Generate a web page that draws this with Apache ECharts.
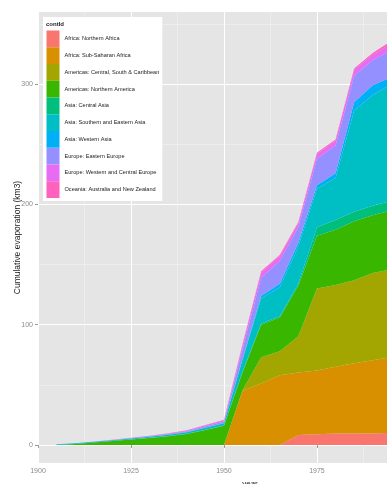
<!DOCTYPE html>
<html>
<head>
<meta charset="utf-8">
<script src="https://cdn.jsdelivr.net/npm/echarts@6/dist/echarts.min.js"></script>
<style>
  html, body { margin: 0; padding: 0; background: #fff; }
  #chart { width: 387px; height: 484px; }
</style>
</head>
<body>
<div id="chart"></div>
<script>
// years and per-region evaporation (km3)
var years = [1905, 1910, 1915, 1920, 1925, 1930, 1935, 1940, 1945, 1950,
             1955, 1960, 1965, 1970, 1975, 1980, 1985, 1990, 1995];

var northernAfrica   = [0, 0, 0, 0, 0, 0, 0, 0, 0, 0,        0, 0, 0, 8.3, 9, 9.5, 9.5, 9.5, 10];
var subSaharanAfrica = [0, 0, 0, 0, 0, 0, 0, 0, 0, 0,        45, 51, 58, 52, 53, 55.5, 58.5, 61, 63];
var centralSouthAm   = [0, 0, 0, 0, 0, 0, 0, 0, 0, 0,        0.5, 22, 20, 30, 68, 68, 69, 72.5, 73];
var northernAmerica  = [0, 0.8, 2, 3.2, 4.5, 5.8, 7.3, 9.2, 12.5, 16,   15, 27, 28, 42, 44, 46, 49, 48, 49];
var centralAsia      = [0, 0, 0, 0, 0.1, 0.1, 0.1, 0.1, 0.2, 0.2,   0.5, 1, 1, 2, 7, 8, 8, 8, 8];
var southEastAsia    = [0.5, 0.6, 0.6, 0.7, 0.8, 0.9, 1.1, 1.3, 1.6, 1.8,   10, 21, 24, 31, 32, 35, 84, 92, 97];
var westernAsia      = [0, 0, 0, 0, 0, 0.1, 0.1, 0.1, 0.2, 0.2,   0.5, 2, 3, 3, 3, 4, 7, 8, 6];
var easternEurope    = [0, 0.1, 0.2, 0.3, 0.4, 0.5, 0.6, 0.8, 1.0, 1.3,   8.5, 15, 19, 13, 22, 23, 22, 21, 22];
var westCentralEur   = [0, 0, 0.1, 0.1, 0.2, 0.3, 0.4, 0.6, 0.8, 1.1,   3, 4.5, 4, 3, 4, 4, 5, 4.5, 6];
var oceania          = [0, 0, 0, 0, 0, 0, 0.1, 0.1, 0.2, 0.4,   1, 1, 1, 1, 1, 1, 1, 1.5, 2];

var regionNames = ['Africa: Northern Africa', 'Africa: Sub-Saharan Africa',
  'Americas: Central, South & Caribbean', 'Americas: Northern America',
  'Asia: Central Asia', 'Asia: Southern and Eastern Asia', 'Asia: Western Asia',
  'Europe: Eastern Europe', 'Europe: Western and Central Europe',
  'Oceania: Australia and New Zealand'];
var regionValues = [northernAfrica, subSaharanAfrica, centralSouthAm, northernAmerica,
  centralAsia, southEastAsia, westernAsia, easternEurope, westCentralEur, oceania];
var colors = ['#F8766D', '#D89000', '#A3A500', '#39B600', '#00BF7D',
              '#00BFC4', '#00B0F6', '#9590FF', '#E76BF3', '#FF62BC'];

var xTicks = [1900, 1925, 1950, 1975, 2000];
var xMinor = [1912.5, 1937.5, 1962.5, 1987.5, 2012.5];
var yTicks = [0, 100, 200, 300];
var yMinor = [50, 150, 250, 350];

var myChart = echarts.init(document.getElementById('chart'));

// value first, year second: echarts stacks the first numeric column,
// so this keeps the stacking on the y axis
var series = regionNames.map(function (name, i) {
  return {
    name: name,
    type: 'line',
    stack: 'total',
    showSymbol: false,
    encode: { x: 1, y: 0 },
    lineStyle: { width: 0 },
    areaStyle: { color: colors[i], opacity: 1 },
    itemStyle: { color: colors[i] },
    data: years.map(function (y, j) { return [regionValues[i][j], y]; })
  };
});

var option = {
  animation: false,
  textStyle: { fontFamily: 'Liberation Sans' },
  grid: {
    left: 38, right: -75, top: 12, bottom: 21, outerBoundsMode: 'none',
    show: true, backgroundColor: '#E5E5E5', borderWidth: 0
  },
  legend: {
    orient: 'vertical',
    left: 43, top: 17,
    padding: [13.5, 3, 3, 3.5],
    backgroundColor: '#fff',
    itemWidth: 13, itemHeight: 16.75, itemGap: 0,
    icon: 'rect',
    selectedMode: false,
    textStyle: { fontSize: 5.6, color: '#222' },
    data: regionNames
  },
  graphic: [{
    type: 'text', left: 46, top: 21, z: 100,
    style: { text: 'contId', fontSize: 6, fontWeight: 'bold', fill: '#222', fontFamily: 'Liberation Sans' }
  }],
  xAxis: [{
    type: 'value', min: 1900, max: 2014,
    name: 'year', nameLocation: 'middle', nameGap: 16,
    nameTextStyle: { fontSize: 8, color: '#222' },
    axisLine: { show: false },
    axisTick: { show: true, length: 3, lineStyle: { color: '#9a9a9a' }, customValues: xTicks },
    axisLabel: { fontSize: 7, color: '#8a8a8a', margin: 5, customValues: xTicks, formatter: function (v) { return String(v); } },
    splitLine: { show: true, lineStyle: { color: '#fff', width: 1 } }
  }, {
    type: 'value', min: 1900, max: 2014,
    axisLine: { show: false },
    axisTick: { show: false, customValues: xMinor },
    axisLabel: { show: false, customValues: xMinor },
    splitLine: { show: true, lineStyle: { color: '#F2F2F2', width: 0.6 } }
  }],
  yAxis: [{
    type: 'value', min: -15, max: 360,
    name: 'Cumulative evaporation (km3)', nameLocation: 'middle', nameGap: 16,
    nameMoveOverlap: false,
    nameTextStyle: { fontSize: 8.5, color: '#222' },
    axisLine: { show: false },
    axisTick: { show: true, length: 3, lineStyle: { color: '#9a9a9a' }, customValues: yTicks },
    axisLabel: { fontSize: 7, color: '#8a8a8a', margin: 5, customValues: yTicks },
    splitLine: { show: true, lineStyle: { color: '#fff', width: 1 } }
  }, {
    type: 'value', min: -15, max: 360,
    axisLine: { show: false },
    axisTick: { show: false, customValues: yMinor },
    axisLabel: { show: false, customValues: yMinor },
    splitLine: { show: true, lineStyle: { color: '#F2F2F2', width: 0.6 } }
  }],
  series: series
};

myChart.setOption(option);
</script>
</body>
</html>
